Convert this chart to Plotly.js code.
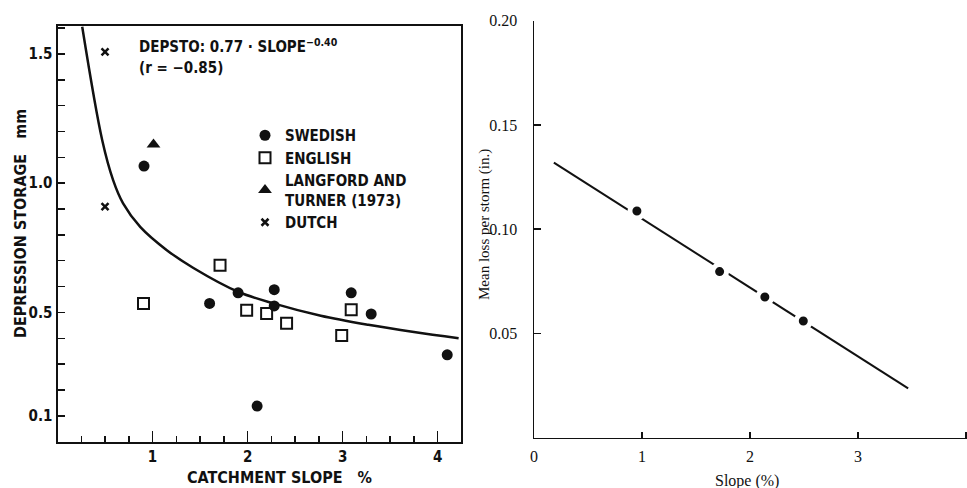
<!DOCTYPE html>
<html>
<head>
<meta charset="utf-8">
<script src="https://cdn.plot.ly/plotly-3.0.1.min.js"></script>
<style>html,body{margin:0;padding:0;background:#fff;}#chart{width:967px;height:488px;}</style>
</head>
<body>
<div id="chart"></div>
<script>
// ---------- Left panel data (depression storage vs catchment slope) ----------
const curveSlope   = [0.26, 0.47, 0.585, 0.69, 0.87, 1.15, 1.43, 1.90, 2.29, 2.77, 3.27, 3.75, 4.22];
const curveStorage = [1.605, 1.167, 1.012, 0.922, 0.831, 0.741, 0.672, 0.580, 0.533, 0.487, 0.452, 0.424, 0.400];

const swedishSlope   = [0.91, 1.60, 1.90, 2.28, 2.28, 2.10, 3.09, 3.30, 4.10];
const swedishStorage = [1.066, 0.535, 0.576, 0.588, 0.525, 0.138, 0.576, 0.494, 0.336];

const englishSlope   = [0.905, 1.71, 1.99, 2.20, 2.41, 2.99, 3.09];
const englishStorage = [0.535, 0.683, 0.508, 0.496, 0.458, 0.411, 0.510];

const langfordSlope   = [1.01];
const langfordStorage = [1.15];

const dutchSlope   = [0.50, 0.50];
const dutchStorage = [1.508, 0.909];

const leftXTicks = [1, 2, 3, 4];
const leftXTickText = ["1", "2", "3", "4"];
const leftYTicks = [0.1, 0.5, 1.0, 1.5];
const leftYTickText = ["0.1", "0.5", "1.0", "1.5"];

// ---------- Right panel data (mean loss per storm vs slope) ----------
const lineSlope = [0.184, 3.465];
const lineLoss  = [0.1319, 0.0236];
const pointSlope = [0.953, 1.719, 2.138, 2.494];
const pointLoss  = [0.1087, 0.0796, 0.0674, 0.0559];

const rightXTicks = [0, 1, 2, 3, 4];
const rightXTickText = ["0", "1", "2", "3", "4"];
const rightYTicks = [0.05, 0.10, 0.15, 0.20];
const rightYTickText = ["0.05", "0.10", "0.15", "0.20"];

// ---------- Styling ----------
const W = 967, H = 488;
const px = v => v / W;
const py = v => 1 - v / H;
const stencil = "DejaVu Sans Condensed, Liberation Sans Narrow, DejaVu Sans, sans-serif";
const serif = "Liberation Serif, DejaVu Serif, serif";
const bold = {family: stencil, size: 15, color: "#111", weight: "bold"};

const traces = [
  {x: curveSlope, y: curveStorage, mode: "lines", line: {color: "#111", width: 2.5, shape: "spline", smoothing: 1},
   xaxis: "x", yaxis: "y", showlegend: false, hoverinfo: "skip"},
  {x: swedishSlope, y: swedishStorage, mode: "markers", name: "SWEDISH",
   marker: {symbol: "circle", size: 11, color: "#111"}, xaxis: "x", yaxis: "y"},
  {x: englishSlope, y: englishStorage, mode: "markers", name: "ENGLISH",
   marker: {symbol: "square-open", size: 11, color: "#111", line: {width: 2, color: "#111"}}, xaxis: "x", yaxis: "y"},
  {x: langfordSlope, y: langfordStorage, mode: "markers", name: "LANGFORD AND<br>TURNER (1973)",
   marker: {symbol: "triangle-up", size: 12, color: "#111"}, xaxis: "x", yaxis: "y"},
  {x: dutchSlope, y: dutchStorage, mode: "markers", name: "DUTCH",
   marker: {symbol: "x-thin", size: 7, color: "#111", line: {width: 2.5, color: "#111"}}, xaxis: "x", yaxis: "y"},
  {x: lineSlope, y: lineLoss, mode: "lines", line: {color: "#111", width: 2},
   xaxis: "x2", yaxis: "y2", showlegend: false, hoverinfo: "skip"},
  {x: pointSlope, y: pointLoss, mode: "markers",
   marker: {symbol: "circle", size: 14, color: "#111", line: {width: 5, color: "#fff"}},
   xaxis: "x2", yaxis: "y2", showlegend: false}
];

const layout = {
  width: W, height: H,
  margin: {l: 0, r: 0, t: 0, b: 0},
  paper_bgcolor: "#fff", plot_bgcolor: "rgba(0,0,0,0)",
  showlegend: true,
  legend: {x: px(245), y: py(119), xanchor: "left", yanchor: "top",
           font: bold, bgcolor: "rgba(0,0,0,0)", tracegroupgap: 0, itemwidth: 30},
  xaxis: {domain: [px(57.5), px(461)], range: [0, 4.245], anchor: "y",
          showline: true, linecolor: "#111", linewidth: 2, mirror: true,
          showgrid: false, zeroline: false,
          tickmode: "array", tickvals: leftXTicks, ticktext: leftXTickText,
          ticks: "inside", ticklen: 11, tickwidth: 1.5, tickcolor: "#111",
          tickfont: bold,
          minor: {tickmode: "linear", tick0: 0, dtick: 0.25, ticks: "inside", ticklen: 6, tickwidth: 1.5, tickcolor: "#111", showgrid: false}},
  yaxis: {domain: [1 - 441.7 / H, 1 - 26 / H], range: [0, 1.608], anchor: "x",
          showline: true, linecolor: "#111", linewidth: 2, mirror: true,
          showgrid: false, zeroline: false,
          tickmode: "array", tickvals: leftYTicks, ticktext: leftYTickText,
          ticks: "inside", ticklen: 7, tickwidth: 1.5, tickcolor: "#111",
          tickfont: bold,
          minor: {tickmode: "linear", tick0: 0, dtick: 0.1, ticks: "inside", ticklen: 7, tickwidth: 1.5, tickcolor: "#111", showgrid: false}},
  xaxis2: {domain: [px(534), 1], range: [0, 4.01], anchor: "y2",
           showline: true, linecolor: "#111", linewidth: 1.5, mirror: false,
           showgrid: false, zeroline: false,
           tickmode: "array", tickvals: rightXTicks, ticktext: rightXTickText,
           ticks: "inside", ticklen: 6, tickwidth: 1.5, tickcolor: "#111",
           tickfont: {family: serif, size: 16, color: "#111"}, ticklabelstandoff: 4},
  yaxis2: {domain: [1 - 437.5 / H, 1 - 20.7 / H], range: [0, 0.2], anchor: "x2",
           showline: true, linecolor: "#111", linewidth: 1.5, mirror: false,
           showgrid: false, zeroline: false,
           tickmode: "array", tickvals: rightYTicks, ticktext: rightYTickText,
           ticks: "inside", ticklen: 7, tickwidth: 1.5, tickcolor: "#111",
           tickfont: {family: serif, size: 16, color: "#111"}, ticklabelstandoff: 12},
  annotations: [
    {xref: "paper", yref: "paper", x: px(137), y: py(46), xanchor: "left", yanchor: "middle",
     text: "DEPSTO: 0.77 · SLOPE<sup>−0.40</sup>", showarrow: false, font: bold},
    {xref: "paper", yref: "paper", x: px(137), y: py(68), xanchor: "left", yanchor: "middle",
     text: "(r = −0.85)", showarrow: false, font: bold},
    {xref: "paper", yref: "paper", x: px(20), y: py(224), xanchor: "center", yanchor: "middle",
     text: "DEPRESSION STORAGE   mm", textangle: -90, showarrow: false,
     font: {family: stencil, size: 16, color: "#111", weight: "bold"}},
    {xref: "paper", yref: "paper", x: px(279), y: py(477), xanchor: "center", yanchor: "middle",
     text: "CATCHMENT SLOPE   %", showarrow: false,
     font: {family: stencil, size: 16, color: "#111", weight: "bold"}},
    {xref: "paper", yref: "paper", x: px(484), y: py(225), xanchor: "center", yanchor: "middle",
     text: "Mean loss per storm (in.)", textangle: -90, showarrow: false,
     font: {family: serif, size: 15, color: "#111"}},
    {xref: "paper", yref: "paper", x: px(747), y: py(481), xanchor: "center", yanchor: "middle",
     text: "Slope (%)", showarrow: false,
     font: {family: serif, size: 16, color: "#111"}}
  ]
};

Plotly.newPlot("chart", traces, layout, {staticPlot: true, displayModeBar: false});
</script>
</body>
</html>
